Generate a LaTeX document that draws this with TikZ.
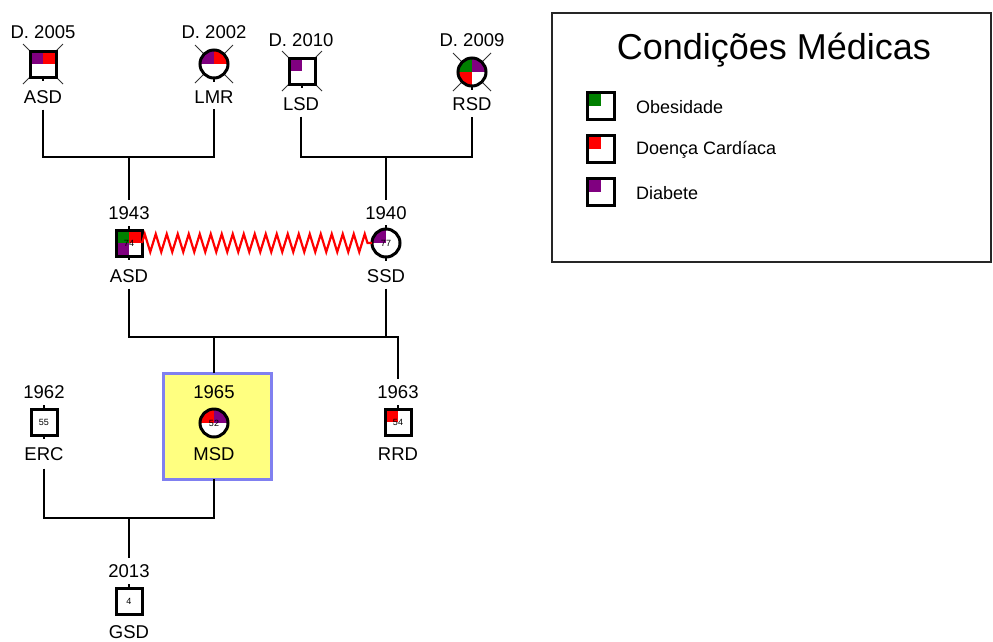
\documentclass[tikz,border=0pt]{standalone}
\usepackage{fontspec}
\setmainfont{Liberation Sans}
\usetikzlibrary{decorations.pathmorphing,backgrounds}
\definecolor{dpurple}{HTML}{800080}
\definecolor{dgreen}{HTML}{008000}
\definecolor{dred}{HTML}{FF0000}
\definecolor{hlfill}{HTML}{FFFF80}
\definecolor{hlborder}{HTML}{8080F0}
\begin{document}
\begin{tikzpicture}[x=1pt,y=-1pt,
  lbl/.style={font=\fontsize{18.5}{20}\selectfont, inner sep=0pt, outer sep=0pt},
  leglbl/.style={font=\fontsize{18}{20}\selectfont, inner sep=0pt, outer sep=0pt, anchor=west},
  sym/.style={draw=black, line width=3pt, fill=white, inner sep=0pt, outer sep=0pt, font=\fontsize{9}{9}\selectfont},
  sq/.style={sym, rectangle, minimum size=26pt},
  ci/.style={sym, circle, minimum size=28pt},
  quads/.style n args={4}{path picture={
    \fill[#1] (path picture bounding box.center) rectangle (path picture bounding box.north west);
    \fill[#2] (path picture bounding box.center) rectangle (path picture bounding box.north east);
    \fill[#3] (path picture bounding box.center) rectangle (path picture bounding box.south west);
    \fill[#4] (path picture bounding box.center) rectangle (path picture bounding box.south east);
  }},
  conn/.style={draw=black, line width=2pt},
  dtick/.style={draw=black!80, line width=1pt},
  stub/.style={draw=black, line width=2pt},
  zz/.style={draw=dred, line width=2.2pt, decorate, decoration={zigzag, segment length=11pt, amplitude=9pt}},
]
\useasboundingbox (0,0) rectangle (993,641);

% ---------- top generation ----------
\node[lbl] (dA) at (43,32) {D. 2005};
\node[sq, quads={dpurple}{dred}{white}{white}] (asdA) at (43,64) {};
\node[lbl] (asdAl) at (43,97) {ASD};

\node[lbl] (dL) at (214,32) {D. 2002};
\node[ci, quads={dpurple}{dred}{white}{white}] (lmr) at (214,64) {};
\node[lbl] (lmrl) at (214,97) {LMR};

\node[lbl] (dS) at (301,40) {D. 2010};
\node[sq, quads={dpurple}{white}{white}{white}] (lsd) at (302,71) {};
\node[lbl] (lsdl) at (301,104) {LSD};

\node[lbl] (dR) at (472,40) {D. 2009};
\node[ci, quads={dgreen}{dpurple}{dred}{white}] (rsd) at (472,72) {};
\node[lbl] (rsdl) at (472,104) {RSD};

% ---------- middle generation ----------
\node[lbl] (y1943) at (129,213) {1943};
\node[sq, quads={dgreen}{dred}{dpurple}{white}] (asdB) at (129,243) {74};
\node[lbl] (asdBl) at (129,276) {ASD};

\node[lbl] (y1940) at (386,213) {1940};
\node[ci, quads={dpurple}{white}{white}{white}] (ssd) at (386,243) {77};
\node[lbl] (ssdl) at (386,276) {SSD};

\draw[zz] (asdB.east) -- (ssd.west);

% ---------- third generation ----------
\node[draw=hlborder, fill=hlfill, line width=3pt, minimum width=108pt, minimum height=106pt, inner sep=0pt, outer sep=0pt] (hl) at (217,426) {};

\node[lbl] (y1962) at (44,392) {1962};
\node[sq, quads={white}{white}{white}{white}] (erc) at (44,422) {55};
\node[lbl] (ercl) at (44,454) {ERC};

\node[lbl] (y1965) at (214,392) {1965};
\node[ci, quads={dred}{dpurple}{white}{white}] (msd) at (214,423) {52};
\node[lbl] (msdl) at (214,454) {MSD};

\node[lbl] (y1963) at (398,392) {1963};
\node[sq, quads={dred}{white}{white}{white}] (rrd) at (398,422) {54};
\node[lbl] (rrdl) at (398,454) {RRD};

% ---------- fourth generation ----------
\node[lbl] (y2013) at (129,571) {2013};
\node[sq, quads={white}{white}{white}{white}] (gsd) at (129,601) {4};
\node[lbl] (gsdl) at (129,632) {GSD};

% ---------- deceased marks ----------
\begin{scope}[on background layer]
  \foreach \n/\d in {asdA/20, lmr/19, lsd/20, rsd/19} {
    \draw[dtick] ([shift={(-\d,-\d)}]\n.center) -- ([shift={(\d,\d)}]\n.center);
    \draw[dtick] ([shift={(-\d,\d)}]\n.center) -- ([shift={(\d,-\d)}]\n.center);
  }
\end{scope}

% ---------- stubs ----------
\foreach \n in {asdA, lmr, lsd, rsd, asdB, ssd, erc}
  \draw[stub] (\n.south) -- ++(0,4);
\foreach \n in {asdB, ssd, erc, rrd, gsd}
  \draw[stub] (\n.north) -- ++(0,-4);

% ---------- connectors ----------
\coordinate (j1) at (129,157);
\coordinate (j2) at (386,157);
\draw[conn] ([yshift=-6pt]asdAl.south) |- (j1) -| ([yshift=-6pt]lmrl.south);
\draw[conn] (j1) -- ([yshift=6pt]y1943.north);
\draw[conn] ([yshift=-6pt]lsdl.south) |- (j2) -| ([yshift=-6pt]rsdl.south);
\draw[conn] (j2) -- ([yshift=6pt]y1940.north);

\coordinate (c2L) at (129,337);
\coordinate (c2S) at (386,337);
\coordinate (c2M) at (214,337);
\coordinate (c2R) at (398,337);
\draw[conn] ([yshift=-6pt]asdBl.south) -- (c2L) -- (c2R) -- ([yshift=6pt]y1963.north);
\draw[conn] ([yshift=-6pt]ssdl.south) -- (c2S);
\draw[conn] (c2M) -- (c2M |- hl.north);

\coordinate (c3L) at (44,518);
\coordinate (c3C) at (129,518);
\coordinate (c3R) at (214,518);
\draw[conn] ([yshift=-8pt]ercl.south) -- (c3L) -- (c3R) -- (c3R |- hl.south);
\draw[conn] (c3C) -- ([yshift=6pt]y2013.north);

% ---------- legend ----------
\node[draw=black!85, line width=2pt, minimum width=439pt, minimum height=249pt, inner sep=0pt, outer sep=0pt] (leg) at (771.5,137.5) {};
\node[font=\fontsize{36}{40}\selectfont, inner sep=0pt] (legt) at (774,50) {Condições Médicas};
\node[sq, minimum size=27pt, quads={dgreen}{white}{white}{white}] (lg1) at (601,106) {};
\node[leglbl] (lt1) at (636,107) {Obesidade};
\node[sq, minimum size=27pt, quads={dred}{white}{white}{white}] (lg2) at (601,149) {};
\node[leglbl] (lt2) at (636,150) {Doença Cardíaca};
\node[sq, minimum size=27pt, quads={dpurple}{white}{white}{white}] (lg3) at (601,192) {};
\node[leglbl] (lt3) at (636,193) {Diabete};
\end{tikzpicture}
\end{document}
